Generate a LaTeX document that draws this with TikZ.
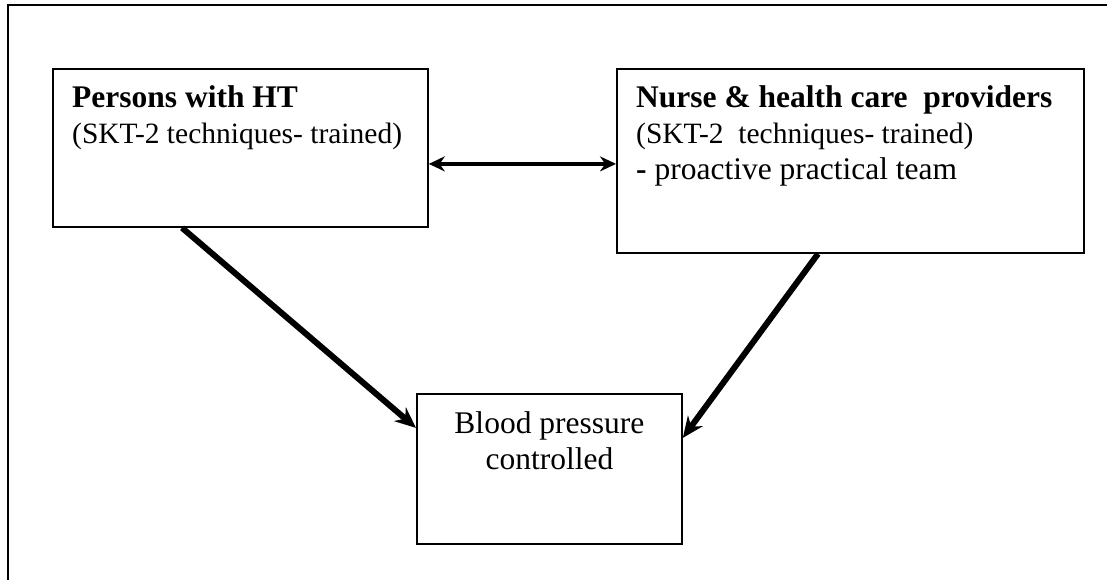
\documentclass[tikz,border=0pt]{standalone}
\usepackage{fontspec}
\setmainfont{Liberation Serif}
\usepackage{tikz}
\usetikzlibrary{positioning,calc,arrows.meta}
\tikzset{
  box/.style  = {draw, rectangle, line width=1.8pt, inner sep=0pt, anchor=north west},
  txt/.style  = {font=\fontsize{31.5}{36}\selectfont, inner sep=0pt},
  tip/.style  = {-{Stealth[length=21pt,width=18pt]}, line width=6pt},
  dbl/.style  = {{Stealth[length=16pt,width=15pt]}-{Stealth[length=16pt,width=15pt]}, line width=4.5pt}
}
\newcommand{\narrow}{\fontsize{29.5}{36}\selectfont}

\begin{document}
\begin{tikzpicture}[x=1pt,y=-1pt]
  \useasboundingbox (0,0) rectangle (1107,580);
  % outer frame (only top and left edge show)
  \draw[line width=2pt] (8,580) -- (8,5) -- (1107,5);

  \node[box, minimum width=375pt, minimum height=158pt] (ht)    at (52,68)  {};
  \node[box, minimum width=467pt, minimum height=184pt] (nurse) at (616,68) {};
  \node[box, minimum width=265pt, minimum height=150pt] (bp)    at (416,393) {};

  \node[txt, anchor=north west, align=left] (httext) at ([shift={(20pt,-17pt)}]ht.north west)
    {\textbf{Persons with HT}\\{\narrow(SKT-2 techniques- trained)}};
  \node[txt, anchor=north west, align=left] (nursetext) at ([shift={(20pt,-17pt)}]nurse.north west)
    {\textbf{Nurse \& health care~ providers}\\{\narrow(SKT-2~ techniques- trained)}\\\textbf{-} proactive practical team};
  \node[txt, anchor=north, align=center] (bptext) at ([yshift=-18pt]bp.north)
    {Blood pressure\\controlled};

  \coordinate (mid) at ([yshift=-16pt]ht.east);
  \draw[dbl] (mid) -- (mid -| nurse.west);
  \draw[tip] ([xshift=130pt]ht.south west) -- ([yshift=41pt]bp.west);
  \draw[tip] ([xshift=202pt]nurse.south west) -- ([yshift=31pt]bp.east);
\end{tikzpicture}
\end{document}
